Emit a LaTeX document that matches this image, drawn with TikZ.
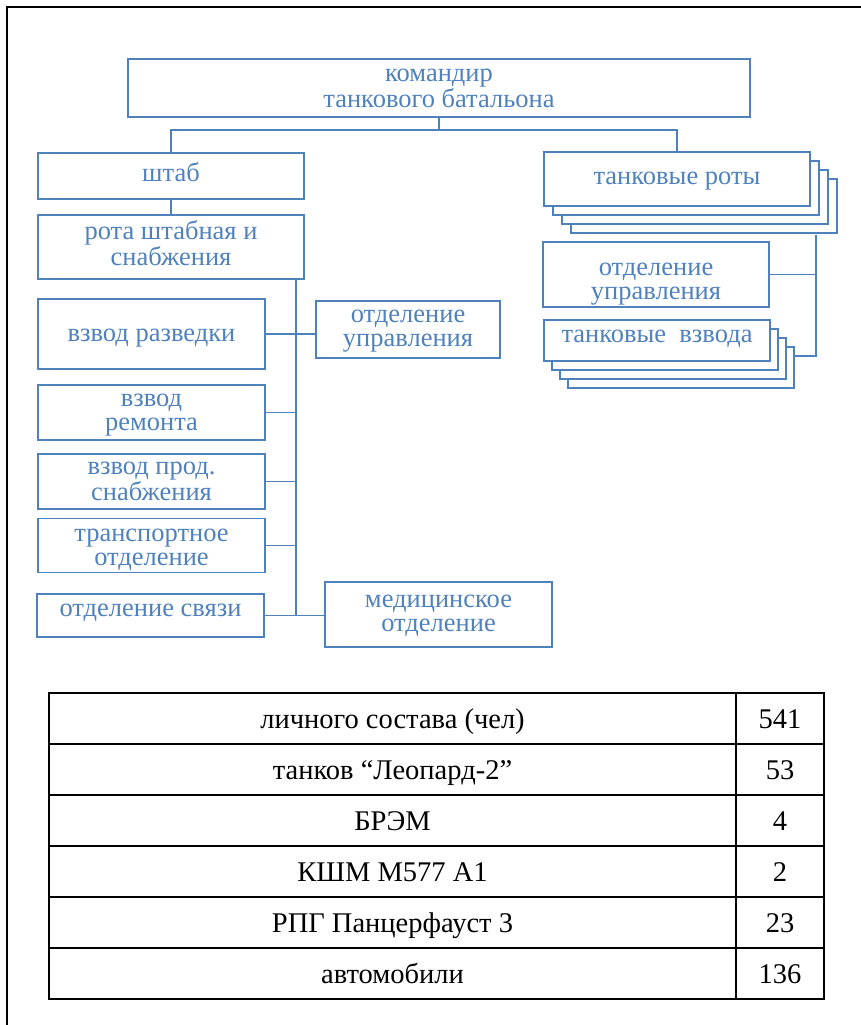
\documentclass[tikz,border=0pt]{standalone}
\usepackage{fontspec}
\setmainfont{Liberation Serif}
\usetikzlibrary{shadows, calc}
\definecolor{orgblue}{HTML}{4F81BD}

\begin{document}
\begin{tikzpicture}[
    x=1pt, y=-1pt,
    box/.style={draw=orgblue, fill=white, line width=1.6, align=center, inner sep=1pt, text=orgblue, font=\fontsize{26.5}{24}\selectfont},
    sz/.style 2 args={minimum width=#1, minimum height=#2},
    tx/.style={text height=#1, text depth=6},
    layer/.style 2 args={copy shadow={shadow xshift=#1, shadow yshift=#2, draw=orgblue, fill=white, line width=1.6}},
    link/.style={draw=orgblue, line width=1.6},
    cell/.style={draw, line width=1.8, minimum height=51, inner sep=1pt, text height=20, text depth=0, font=\fontsize{28.5}{30}\selectfont},
    frame/.style={line width=2.5}
  ]
    \useasboundingbox (0,0) rectangle (861,1025);
    \draw[frame] (7,1025) -- (7,7) -- (861,7);

    \node[box, sz={622}{58}, tx=45, font=\fontsize{26.5}{22}\selectfont] (kombat) at (439,88) {командир\\танкового батальона};
    \node[box, sz={266}{46}, tx=17] (shtab) at (171,176) {штаб};
    \node[box, sz={266}{64}, tx=43] (rota) at (171,247) {рота штабная и\\снабжения};
    \node[box, sz={227}{70}, tx=21] (razv) at (151.5,334) {взвод разведки};
    \node[box, sz={184}{57}, tx=40] (uprl) at (408,329.5) {отделение\\управления};
    \node[box, sz={227}{55}, tx=42] (remont) at (151.5,412.5) {взвод\\ремонта};
    \node[box, sz={227}{55}, tx=44] (prod) at (151.5,481.5) {взвод прод.\\снабжения};
    \node[box, sz={227}{53}, tx=46] (transp) at (151.5,545.5) {транспортное\\отделение};
    \node[box, sz={227}{43}, tx=8] (svyaz) at (150.5,615.5) {отделение связи};
    \node[box, sz={227}{65}, tx=40] (med) at (438.5,614.5) {медицинское\\отделение};
    \node[box, sz={266}{54}, tx=17, layer={27}{27}, layer={18}{18}, layer={9}{9}] (roty) at (677,179) {танковые роты};
    \node[box, sz={226}{65}, tx=56] (uprr) at (656,274.5) {отделение\\управления};
    \node[box, sz={226}{41}, tx=10, layer={24}{27}, layer={16}{18}, layer={8}{9}] (vzvody) at (657,340.5) {танковые\ \ взвода};

    \coordinate (fork) at ($(kombat.south)+(0,12)$);
    \draw[link] (kombat.south) -- (fork) -| (shtab.north);
    \draw[link] (fork) -| (roty.north);
    \draw[link] (shtab) -- (rota);
    \coordinate (ltop) at ($(rota.south east)+(-9,0)$);
    \coordinate (lbot) at (ltop |- svyaz.east);
    \draw[link] (ltop) -- (lbot);
    \draw[link] (razv.east) -- (razv.east -| uprl.west);
    \foreach \n in {remont, prod, transp}
      \draw[link] (\n.east) -- (\n.east -| ltop);
    \draw[link] (svyaz.east) -- (svyaz.east -| med.west);
    \coordinate (rtop) at ($(roty.south east)+(5,28)$);
    \coordinate (rend) at ($(vzvody.east)+(24,15.5)$);
    \draw[link] (rtop) |- (rend);
    \draw[link] (uprr.east) -- (uprr.east -| rtop);

    \foreach \what/\qty [count=\i from 0] in {личного состава (чел)/541, танков “Леопард-2”/53, БРЭМ/4, КШМ M577 A1/2, РПГ Панцерфауст 3/23, автомобили/136} {
      \node[cell, minimum width=687] (item\i) at (392.5,718.5+51*\i) {\what};
      \node[cell, minimum width=88] (qty\i) at (780,718.5+51*\i) {\qty};
    }
  \end{tikzpicture}
\end{document}
